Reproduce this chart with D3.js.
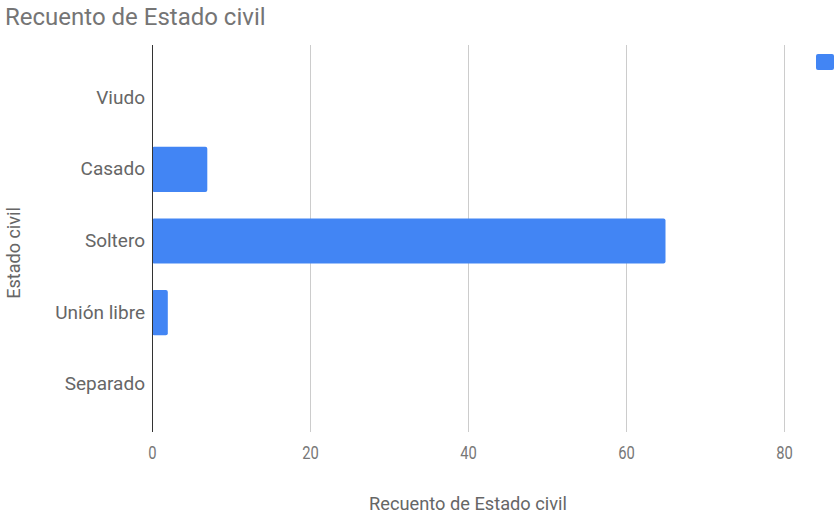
<!DOCTYPE html>
<html><head><meta charset="utf-8">
<script src="https://cdn.jsdelivr.net/npm/d3@7"></script>
<style>body{margin:0;background:#fff;}svg{display:block;font-family:Roboto,"Noto Sans",sans-serif;}</style>
</head><body>
<script>
const categories = ["Viudo", "Casado", "Soltero", "Unión libre", "Separado"];
const values = [0, 7, 65, 2, 0];
const xTicks = [0, 20, 40, 60, 80];
const title = "Recuento de Estado civil";
const xTitle = "Recuento de Estado civil";
const yTitle = "Estado civil";

const W = 834, H = 514;
const svg = d3.select("body").append("svg").attr("width", W).attr("height", H);

const x = d3.scaleLinear().domain([0, 80]).range([152, 784]);
const y = d3.scaleBand().domain(categories).range([62, 420]).paddingInner(0.37).paddingOuter(0.185);

// title
svg.append("text").attr("x", 5).attr("y", 25).attr("font-size", 24).attr("fill", "#757575").text(title);

// gridlines
svg.append("g").selectAll("line").data(xTicks.filter(d => d !== 0)).join("line")
  .attr("x1", d => x(d)).attr("x2", d => x(d)).attr("y1", 45).attr("y2", 432)
  .attr("stroke", "#cccccc").attr("stroke-width", 1).attr("shape-rendering", "crispEdges");

// bars
svg.append("g").selectAll("rect").data(categories.map((c, i) => ({c, v: values[i]})).filter(d => d.v > 0)).join("rect")
  .attr("x", x(0)).attr("y", d => y(d.c)).attr("width", d => x(d.v) - x(0)).attr("height", y.bandwidth())
  .attr("rx", 2).attr("fill", "#4285f4");

// zero line
svg.append("line").attr("x1", x(0)).attr("x2", x(0)).attr("y1", 45).attr("y2", 432)
  .attr("stroke", "#333").attr("stroke-width", 1).attr("shape-rendering", "crispEdges");

// x axis tick labels (slightly condensed)
const xAxis = d3.axisBottom(x).tickValues(xTicks).tickSize(0).tickPadding(0);
const gx = svg.append("g").attr("transform", "translate(0,459)").call(xAxis);
gx.select(".domain").remove();
gx.selectAll(".tick text").attr("font-size", 18).attr("fill", "#777").attr("font-family", "Roboto, sans-serif")
  .attr("dy", 0).attr("y", 0).attr("transform", "scale(0.82,1)");

// y axis labels
const yAxis = d3.axisLeft(y).tickSize(0).tickPadding(7);
const gy = svg.append("g").attr("transform", `translate(${x(0)},0)`).call(yAxis);
gy.select(".domain").remove();
gy.selectAll("text").attr("font-size", 19).attr("fill", "#666").attr("font-family", "Roboto, sans-serif");

// axis titles
svg.append("text").attr("transform", "translate(468,510) scale(0.96,1)").attr("text-anchor", "middle").attr("font-size", 19).attr("fill", "#666").text(xTitle);
svg.append("text").attr("transform", "translate(20,253) rotate(-90) scale(0.95,1)").attr("text-anchor", "middle").attr("font-size", 19).attr("fill", "#666").text(yTitle);

// legend swatch
svg.append("rect").attr("x", 816).attr("y", 54).attr("width", 18).attr("height", 16).attr("rx", 2).attr("fill", "#4285f4");
</script>
</body></html>
